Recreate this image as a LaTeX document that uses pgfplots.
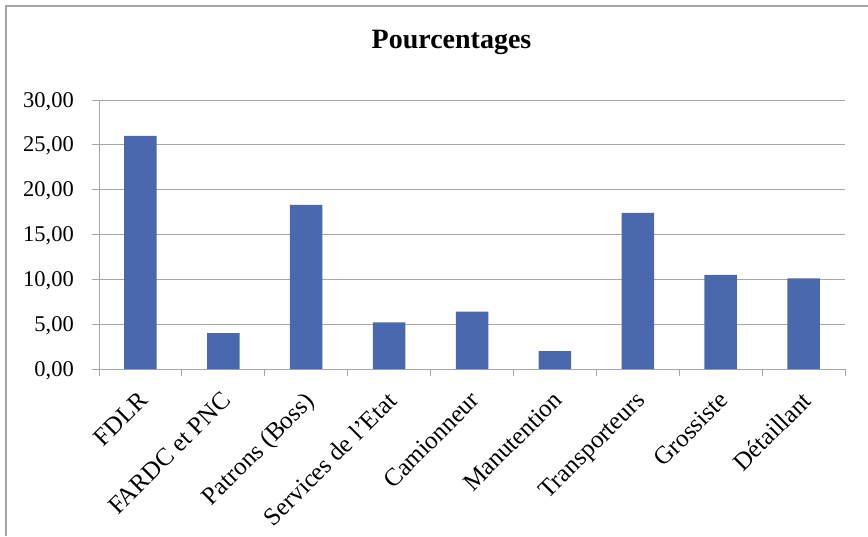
\documentclass[border=0pt]{standalone}
\usepackage{fontspec}
\setmainfont{Liberation Serif}
\usepackage{pgfplots}
\pgfplotsset{compat=1.18}
\definecolor{barblue}{RGB}{73,104,174}
\definecolor{gridgray}{RGB}{166,166,166}
\begin{document}
\begin{tikzpicture}
\path[use as bounding box] (0pt,0pt) rectangle (868pt,-536pt);
\draw[gridgray, line width=1.3pt] (6pt,-536pt) -- (6pt,-6pt) -- (868pt,-6pt);
\node[anchor=base, inner sep=0pt, font=\fontsize{28}{32}\selectfont\bfseries] at (451.5pt,-48pt) {Pourcentages};
\begin{axis}[
  at={(99pt,-369pt)}, anchor=south west,
  scale only axis, width=746pt, height=269pt,
  xmin=-0.5, xmax=8.5, ymin=0, ymax=30,
  ybar, bar width=32.5pt,
  xtick={0,...,8},
  xticklabels={FDLR, FARDC et PNC, Patrons (Boss), Services de l'Etat, Camionneur, Manutention, Transporteurs, Grossiste, Détaillant},
  minor xtick={-0.5,0.5,...,8.5},
  ytick={0,5,...,30},
  axis x line*=bottom, axis y line*=left,
  axis line style={-, draw=gridgray, line width=1pt},
  every outer x axis line/.append style={-},
  every outer y axis line/.append style={-},
  tick align=outside,
  major tick length=7pt, minor tick length=7pt,
  major x tick style={draw=none},
  tick style={gridgray, line width=1pt},
  ymajorgrids, grid style={gridgray, line width=1pt},
  xticklabel style={font=\fontsize{25}{29}\selectfont, inner sep=0pt, xshift=-3pt, yshift=-14pt, rotate=45, anchor=north east},
  yticklabel style={font=\fontsize{22.5}{26}\selectfont, inner sep=0pt, anchor=base east, xshift=-18pt, yshift=-7pt},
  /pgf/number format/fixed,
  /pgf/number format/fixed zerofill,
  /pgf/number format/precision=2,
  /pgf/number format/use comma,
  /pgf/number format/assume math mode=true,
]
\addplot[fill=barblue, draw=none] coordinates {(0,26) (1,4) (2,18.3) (3,5.2) (4,6.4) (5,2) (6,17.4) (7,10.5) (8,10.1)};
\end{axis}
\end{tikzpicture}
\end{document}
